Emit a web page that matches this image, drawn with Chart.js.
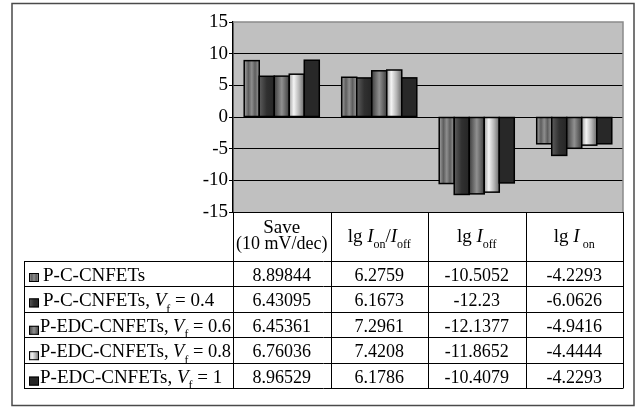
<!DOCTYPE html>
<html>
<head>
<meta charset="utf-8">
<script src="https://cdn.jsdelivr.net/npm/chart.js@4.4.0/dist/chart.umd.min.js"></script>
<style>
html, body { margin: 0; padding: 0; background: #fff; }
#wrap { width: 639px; height: 408px; }
</style>
</head>
<body>
<div id="wrap"><canvas id="chart" width="639" height="408"></canvas></div>
<script>
// categories (columns of the data table)
const categories = ['Save (10 mV/dec)', 'lg Ion/Ioff', 'lg Ioff', 'lg Ion'];

// series values, one array per device
const pcCnfets     = [8.89844, 6.2759, -10.5052, -4.2293];
const pcCnfetsVf04 = [6.43095, 6.1673, -12.23, -6.0626];
const pedcVf06     = [6.45361, 7.2961, -12.1377, -4.9416];
const pedcVf08     = [6.76036, 7.4208, -11.8652, -4.4444];
const pedcVf1      = [8.96529, 6.1786, -10.4079, -4.2293];

const seriesNames = ['P-C-CNFETs', 'P-C-CNFETs, Vf = 0.4', 'P-EDC-CNFETs, Vf = 0.6',
                     'P-EDC-CNFETs, Vf = 0.8', 'P-EDC-CNFETs, Vf = 1'];
const yTicks = [15, 10, 5, 0, -5, -10, -15];

// rich text versions of the header and row labels (italic / subscript parts)
const headerText = [
    [[{ t: 'Save' }], [{ t: '(10 mV/dec)' }]],
    [[{ t: 'lg ' }, { t: 'I', it: true }, { t: 'on', sub: true }, { t: '/' }, { t: 'I', it: true }, { t: 'off', sub: true }]],
    [[{ t: 'lg ' }, { t: 'I', it: true }, { t: 'off', sub: true }]],
    [[{ t: 'lg ' }, { t: 'I', it: true }, { t: ' on', sub: true }]]
];
const rowText = [
    [{ t: 'P-C-CNFETs' }],
    [{ t: 'P-C-CNFETs, ' }, { t: 'V', it: true }, { t: 'f', sub: true }, { t: ' = 0.4' }],
    [{ t: 'P-EDC-CNFETs, ' }, { t: 'V', it: true }, { t: 'f', sub: true }, { t: ' = 0.6' }],
    [{ t: 'P-EDC-CNFETs, ' }, { t: 'V', it: true }, { t: 'f', sub: true }, { t: ' = 0.8' }],
    [{ t: 'P-EDC-CNFETs, ' }, { t: 'V', it: true }, { t: 'f', sub: true }, { t: ' = 1' }]
];

// grey gradient fills for each series
const barStops = [
    [[0, '#a2a2a2'], [0.28, '#5e5e5e'], [0.5, '#8e8e8e'], [0.72, '#5e5e5e'], [1, '#9c9c9c']],
    [[0, '#5c5c5c'], [0.5, '#303030'], [1, '#262626']],
    [[0, '#3e3e3e'], [0.5, '#909090'], [1, '#3e3e3e']],
    [[0, '#a0a0a0'], [0.3, '#f4f4f4'], [0.65, '#b6b6b6'], [1, '#6a6a6a']],
    [[0, '#282828'], [1, '#282828']]
];

const FONT = '"Liberation Serif", "Times New Roman", serif';
const tableLeft = 24;
const headerHeight = 49;
const rowHeight = 25.4;

function makeGradient(ctx, x0, x1, stops) {
    const g = ctx.createLinearGradient(x0, 0, x1, 0);
    stops.forEach(([o, c]) => g.addColorStop(o, c));
    return g;
}

function drawRich(ctx, segs, x, y, size, align, maxWidth) {
    const fontFor = s => (s.it ? 'italic ' : '') + (s.sub ? Math.round(size * 0.62) : size) + 'px ' + FONT;
    let w = 0;
    segs.forEach(s => { ctx.font = fontFor(s); w += ctx.measureText(s.t).width; });
    let scale = 1;
    if (maxWidth && w > maxWidth) scale = maxWidth / w;
    let cx = align === 'center' ? x - (w * scale) / 2 : x;
    segs.forEach(s => {
        ctx.font = fontFor(s);
        const sw = ctx.measureText(s.t).width * scale;
        ctx.fillText(s.t, cx, y + (s.sub ? size * 0.34 : 0), sw);
        cx += sw;
    });
}

const plotBackground = {
    id: 'plotBackground',
    beforeDraw(chart) {
        const { ctx, chartArea: a } = chart;
        ctx.save();
        ctx.fillStyle = '#c0c0c0';
        ctx.fillRect(a.left, a.top, a.right - a.left, a.bottom - a.top);
        ctx.restore();
    }
};

// bars: gradient fill + black outline, placed from the library's bar elements
const gradientBars = {
    id: 'gradientBars',
    afterDatasetsDraw(chart) {
        const ctx = chart.ctx;
        ctx.save();
        chart.data.datasets.forEach((ds, di) => {
            chart.getDatasetMeta(di).data.forEach(bar => {
                const { x, y, base, width } = bar.getProps(['x', 'y', 'base', 'width'], true);
                const x0 = x - width / 2;
                const top = Math.min(y, base);
                const h = Math.abs(base - y);
                ctx.fillStyle = makeGradient(ctx, x0, x0 + width, barStops[di]);
                ctx.fillRect(x0, top, width, h);
                ctx.lineWidth = 1.5;
                ctx.strokeStyle = '#000';
                ctx.strokeRect(x0, top, width, h);
            });
        });
        ctx.restore();
    }
};

const dataTable = {
    id: 'dataTable',
    afterDraw(chart) {
        const { ctx, chartArea: a } = chart;
        const xs = chart.scales.x;
        const colW = (a.right - a.left) / categories.length;
        const top = a.bottom;
        const rowsTop = top + headerHeight;
        const bottom = rowsTop + rowHeight * seriesNames.length;
        ctx.save();

        // plot border (grey top and right)
        ctx.strokeStyle = '#8a8a8a';
        ctx.lineWidth = 1.5;
        ctx.beginPath();
        ctx.moveTo(a.left, a.top);
        ctx.lineTo(a.right, a.top);
        ctx.lineTo(a.right, a.bottom);
        ctx.stroke();

        // table grid
        ctx.strokeStyle = '#000';
        ctx.lineWidth = 1;
        ctx.beginPath();
        ctx.moveTo(a.left, top + 0.5); ctx.lineTo(a.right, top + 0.5);
        for (let r = 0; r <= seriesNames.length; r++) {
            const yy = Math.round(rowsTop + r * rowHeight) + 0.5;
            ctx.moveTo(tableLeft, yy); ctx.lineTo(a.right, yy);
        }
        ctx.moveTo(tableLeft + 0.5, rowsTop); ctx.lineTo(tableLeft + 0.5, bottom);
        for (let c = 0; c <= categories.length; c++) {
            const xx = Math.round(a.left + c * colW) + 0.5;
            ctx.moveTo(xx, top); ctx.lineTo(xx, Math.round(bottom) + 0.5);
        }
        ctx.stroke();

        ctx.fillStyle = '#000';
        ctx.textBaseline = 'alphabetic';
        ctx.textAlign = 'left';

        // header cells
        headerText.forEach((lines, c) => {
            const cx = xs.getPixelForValue(c);
            if (lines.length === 2) {
                drawRich(ctx, lines[0], cx, top + 21, 19, 'center');
                drawRich(ctx, lines[1], cx, top + 37, 18, 'center', colW - 1);
            } else {
                drawRich(ctx, lines[0], cx, top + 30, 19, 'center');
            }
        });

        // rows: legend key, label, values
        const series = [pcCnfets, pcCnfetsVf04, pedcVf06, pedcVf08, pedcVf1];
        series.forEach((vals, r) => {
            const rt = rowsTop + r * rowHeight;
            const keyY = r < 2 ? rt + 12 : rt + 14;
            ctx.fillStyle = makeGradient(ctx, 29, 39, barStops[r]);
            ctx.fillRect(29, keyY, 10, 9);
            ctx.strokeStyle = '#000';
            ctx.lineWidth = 1;
            ctx.strokeRect(29.5, keyY + 0.5, 9, 8);
            ctx.fillStyle = '#000';
            const lx = r < 2 ? 43 : 40;
            drawRich(ctx, rowText[r], lx, rt + 20, 19, 'left', a.left - lx - 2);
            vals.forEach((v, c) => {
                drawRich(ctx, [{ t: String(v) }], xs.getPixelForValue(c), rt + 20, 18, 'center');
            });
        });

        // outer frame
        ctx.strokeStyle = '#4a4a4a';
        ctx.lineWidth = 1.5;
        ctx.strokeRect(12, 3.5, 622, 402);
        ctx.restore();
    }
};

new Chart(document.getElementById('chart'), {
    type: 'bar',
    data: {
        labels: categories,
        datasets: [
            { label: seriesNames[0], data: pcCnfets },
            { label: seriesNames[1], data: pcCnfetsVf04 },
            { label: seriesNames[2], data: pedcVf06 },
            { label: seriesNames[3], data: pedcVf08 },
            { label: seriesNames[4], data: pedcVf1 }
        ].map(d => Object.assign(d, {
            backgroundColor: 'rgba(0,0,0,0)',
            borderWidth: 0,
            categoryPercentage: 0.77,
            barPercentage: 1.0
        }))
    },
    options: {
        responsive: false,
        animation: false,
        layout: { padding: { top: 22, right: 16, bottom: 196, left: 0 } },
        plugins: { legend: { display: false }, tooltip: { enabled: false } },
        scales: {
            x: { display: false, grid: { display: false } },
            y: {
                min: yTicks[yTicks.length - 1],
                max: yTicks[0],
                afterBuildTicks: s => { s.ticks = yTicks.map(v => ({ value: v })); },
                afterFit: s => { s.width = 233; },
                ticks: { color: '#000', padding: 1, font: { family: FONT, size: 19 } },
                grid: {
                    color: c => (c.tick && c.tick.value === yTicks[0]) ? 'rgba(0,0,0,0)' : '#000',
                    lineWidth: 1,
                    tickLength: 4,
                    tickColor: '#000'
                },
                border: { color: '#000', width: 1.5 }
            }
        }
    },
    plugins: [plotBackground, gradientBars, dataTable]
});
</script>
</body>
</html>
